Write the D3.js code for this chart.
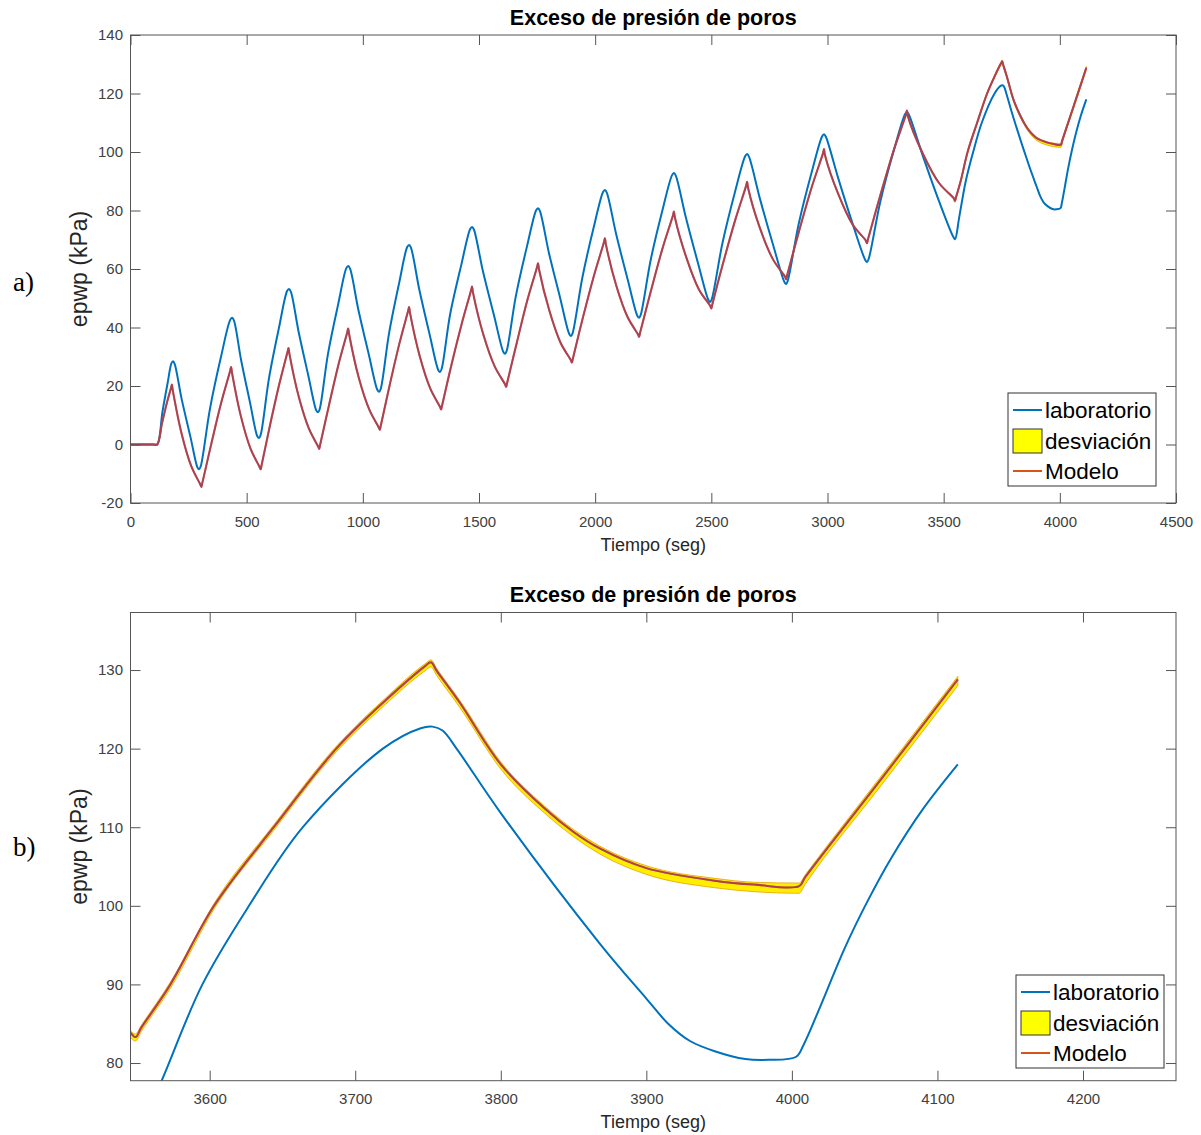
<!DOCTYPE html>
<html><head><meta charset="utf-8">
<script src="https://cdn.jsdelivr.net/npm/d3@7"></script>
<style>body{margin:0;background:#fff} svg{display:block}</style>
</head><body><svg id="c" width="1201" height="1135"></svg>
<script>
// ---- data (tiempo en seg, epwp en kPa) ----
const laboratorio = [
[0,0],[100,0],[115,0],[138,11.4],[160,21.1],[176,27.7],[183,28.5],[190,27.6],[220,15.6],[258,2.6],[288,-7.8],[295,-8.5],[302,-7.5],
[342,12.2],[389,29.8],[429,42.6],[437,43.3],[445,42.4],[476,28.9],[514,14.5],[546,2.8],[553,2.2],[560,3.2],
[596,22.6],[639,39.9],[674,52.5],[682,53.2],[690,52.3],[724,38.4],[765,23.7],[800,11.6],[807,11],[814,12],
[850,31],[894,48],[929,60.3],[937,61],[945,60.1],[981,46],[1025,31],[1063,18.6],[1070,18],[1077,19],
[1113,38.1],[1156,55.1],[1191,67.5],[1199,68.2],[1207,67.3],[1243,53],[1287,37.8],[1325,25.4],[1332,24.8],[1339,25.8],
[1376,44.6],[1424,61.5],[1462,73.7],[1470,74.4],[1478,73.5],[1517,59.2],[1565,44],[1605,31.6],[1612,31],[1619,32],
[1659,50.9],[1707,67.9],[1746,80.1],[1754,80.8],[1762,79.9],[1801,65.5],[1849,50.2],[1889,37.7],[1896,37.1],[1903,38.1],
[1945,57.1],[1993,74],[2034,86.3],[2042,87],[2050,86.1],[2091,71.7],[2140,56.4],[2182,43.9],[2189,43.3],[2196,44.3],
[2239,63.1],[2289,79.9],[2331,92.1],[2339,92.8],[2347,91.9],[2391,77.4],[2443,61.9],[2488,49.3],[2495,48.7],[2502,49.7],
[2548,68.9],[2601,86.1],[2646,98.6],[2654,99.3],[2662,98.4],[2710,83.8],[2766,68.2],[2815,55.5],[2822,54.9],[2829,56],
[2876,75.4],[2931,92.8],[2977,105.4],[2985,106.1],[2993,105.2],[3047,90.8],[3108,75.5],[3163,63],[3170,62.4],[3177,63.4],
[3227,82.9],[3285,100.4],[3334,113],[3342,113.7],[3350,112.8],[3411,98.5],[3480,83.2],[3542,70.9],[3549,70.2],
[3567,77.75],[3595,90],[3627,100],[3664,110],[3719,120],[3745,122.6],[3753,122.8],[3760,122.3],[3770,119.9],[3800,111.8],
[3868,95.2],[3900,88.2],[3915,85.0],[3930,82.8],[3947,81.5],[3968,80.5],[3984,80.4],[4003,80.8],[4008,82.3],[4020,87.4],
[4036,94.5],[4052,100.6],[4068,106],[4090,112.3],[4114,118]
];
const modelo = [
[0,0],[100,0],[115,0],[136,7.4],[157,14.4],[174,19.2],[178,20.5],[182,18.5],[220,3.7],[262,-7.5],[300,-13.6],[305,-14.5],[309,-13.2],
[348,0.3],[390,14.2],[429,25.2],[433,26.5],[437,24.5],[475,9.7],[517,-1.5],[555,-7.6],[560,-8.5],[564,-7.2],
[600,6.4],[640,20.5],[676,31.7],[680,33],[684,31],[724,16.4],[768,5.4],[807,-0.6],[812,-1.5],[816,-0.2],
[854,13.3],[895,27.3],[933,38.4],[937,39.7],[941,37.7],[982,23],[1028,11.9],[1068,5.9],[1073,5],[1077,6.3],
[1115,20.1],[1157,34.4],[1195,45.7],[1199,47],[1203,45],[1245,30.2],[1291,19],[1332,12.9],[1337,12],[1341,13.3],
[1381,27.1],[1426,41.4],[1466,52.7],[1470,54],[1474,52],[1519,37.5],[1568,26.6],[1612,20.6],[1617,19.7],[1621,21],
[1663,34.9],[1708,49.3],[1750,60.7],[1754,62],[1758,60],[1803,45.7],[1851,34.8],[1895,28.9],[1900,28],[1904,29.3],
[1947,43.3],[1995,57.8],[2038,69.2],[2042,70.5],[2046,68.5],[2091,54.3],[2140,43.5],[2184,37.7],[2189,36.8],[2193,38.1],
[2239,52.2],[2289,66.8],[2335,78.4],[2339,79.7],[2343,77.7],[2393,63.8],[2446,53.1],[2495,47.4],[2500,46.5],[2504,47.8],
[2551,62.1],[2603,76.8],[2650,88.5],[2654,89.8],[2658,87.8],[2710,73.8],[2766,63.2],[2817,57.4],[2822,56.5],[2826,57.8],
[2876,72.5],[2931,87.7],[2981,99.7],[2985,101],[2989,99],[3047,85.5],[3108,75.2],[3165,69.7],[3170,68.8],[3174,70.1],
[3227,85.1],[3285,100.6],[3338,112.9],[3342,114.2],[3346,112.2],[3411,99.3],[3480,89.4],[3544,84.1],[3549,83.3],[3553,84.5],
[3573,90],[3603,100],[3644,110],[3687,120],[3720,126],[3748,130.5],[3752,131],[3756,129.9],[3772,125.8],[3800,118],
[3830,112.4],[3850,109.4],[3868,107.3],[3900,104.8],[3947,103.2],[3974,102.7],[4005,102.5],[4009,103.6],[4060,115.8],[4114,128.8]
];
// desviación: [tiempo, límite inferior, límite superior]
const desviacion = [
[3544,83.6,84.5],[3549,82.8,83.7],[3553,84.0,84.8],[3573,89.5,90.3],[3603,99.6,100.3],[3644,109.6,110.3],
[3687,119.6,120.3],[3720,125.5,126.3],[3748,129.9,130.8],[3752,130.4,131.3],[3756,129.3,130.2],[3772,125.2,126.1],
[3800,117.4,118.3],[3830,111.8,112.7],[3850,108.8,109.7],[3868,106.6,107.6],[3900,104.0,105.1],[3947,102.3,103.5],
[3974,101.8,103.0],[4005,101.6,102.9],[4009,102.7,103.9],[4060,115.0,116.2],[4114,128.0,129.2]
];
const ticksXa = [0,500,1000,1500,2000,2500,3000,3500,4000,4500];
const ticksYa = [-20,0,20,40,60,80,100,120,140];
const ticksXb = [3600,3700,3800,3900,4000,4100,4200];
const ticksYb = [80,90,100,110,120,130];
const titulo = "Exceso de presión de poros";
const etiquetaX = "Tiempo (seg)";
const etiquetaY = "epwp (kPa)";
const leyenda = ["laboratorio","desviación","Modelo"];

// ---- layout ----
const panels = [
  {tag:"a)", xDom:[0,4500], yDom:[-20,140], xt:ticksXa, yt:ticksYa,
   l:130.5, r:1176, t:35, b:503, lx:1008, ly:393, titleY:25, xlabY:551, tagY:291},
  {tag:"b)", xDom:[3545.6,4263.9], yDom:[77.75,137.32], xt:ticksXb, yt:ticksYb,
   l:130.5, r:1176, t:612.5, b:1080.7, lx:1016, ly:975, titleY:602, xlabY:1128, tagY:856}
];
const FONT = '"Liberation Sans", Arial, Helvetica, sans-serif';
const svg = d3.select("#c");
const defs = svg.append("defs");

panels.forEach((p,i)=>{
  const x = d3.scaleLinear().domain(p.xDom).range([p.l,p.r]);
  const y = d3.scaleLinear().domain(p.yDom).range([p.b,p.t]);
  const g = svg.append("g");
  defs.append("clipPath").attr("id","clip"+i).append("rect")
    .attr("x",p.l).attr("y",p.t).attr("width",p.r-p.l).attr("height",p.b-p.t);
  const plot = g.append("g").attr("clip-path",`url(#clip${i})`);
  const curve = d3.curveCatmullRom.alpha(0.5);
  const line = d3.line().x(d=>x(d[0])).y(d=>y(d[1])).curve(curve);
  const area = d3.area().x(d=>x(d[0])).y0(d=>y(d[1])).y1(d=>y(d[2])).curve(d3.curveMonotoneX);
  plot.append("path").datum(laboratorio).attr("d",line).attr("fill","none")
    .attr("stroke","#0072BD").attr("stroke-width",2).attr("stroke-linejoin","round");
  plot.append("path").datum(desviacion).attr("d",area).attr("fill","#ffee00")
    .attr("stroke","#eaa000").attr("stroke-width",0.8);
  plot.append("path").datum(modelo).attr("d",line).attr("fill","none")
    .attr("stroke","#D95319").attr("stroke-width",2).attr("stroke-linejoin","round");
  plot.append("path").datum(modelo).attr("d",line).attr("fill","none")
    .attr("stroke","#7E2F8E").attr("stroke-width",2).attr("stroke-opacity",0.5);

  const fmt = d=>String(d);
  const styleAxis = a=>{
    a.select(".domain").remove();
    a.selectAll("line").attr("stroke","#555");
    a.selectAll("text").attr("font-size",15).attr("font-family",FONT).attr("fill","#404040");
  };
  g.append("g").attr("transform",`translate(0,${p.b})`)
    .call(d3.axisBottom(x).tickValues(p.xt).tickSize(-10).tickPadding(13).tickFormat(fmt)).call(styleAxis);
  g.append("g").attr("transform",`translate(0,${p.t})`)
    .call(d3.axisTop(x).tickValues(p.xt).tickSize(-10).tickFormat("")).call(styleAxis);
  g.append("g").attr("transform",`translate(${p.l},0)`)
    .call(d3.axisLeft(y).tickValues(p.yt).tickSize(-10).tickPadding(7.5).tickFormat(fmt)).call(styleAxis);
  g.append("g").attr("transform",`translate(${p.r},0)`)
    .call(d3.axisRight(y).tickValues(p.yt).tickSize(-10).tickFormat("")).call(styleAxis);
  g.append("rect").attr("x",p.l).attr("y",p.t).attr("width",p.r-p.l).attr("height",p.b-p.t)
    .attr("fill","none").attr("stroke","#555").attr("stroke-width",1);

  const cx = (p.l+p.r)/2;
  g.append("text").attr("x",cx).attr("y",p.titleY).attr("text-anchor","middle")
    .attr("font-family",FONT).attr("font-weight","bold").attr("font-size",21.5).attr("fill","#000").text(titulo);
  g.append("text").attr("x",cx).attr("y",p.xlabY).attr("text-anchor","middle")
    .attr("font-family",FONT).attr("font-size",18).attr("fill","#262626").text(etiquetaX);
  const cy = (p.t+p.b)/2;
  g.append("text").attr("transform",`translate(87,${cy}) rotate(-90)`).attr("text-anchor","middle")
    .attr("font-family",FONT).attr("font-size",23).attr("fill","#262626").text(etiquetaY);
  g.append("text").attr("x",13).attr("y",p.tagY)
    .attr("font-family",'"Liberation Serif","Times New Roman",serif').attr("font-size",27).attr("fill","#000").text(p.tag);

  // legend
  const lg = g.append("g").attr("transform",`translate(${p.lx},${p.ly})`);
  lg.append("rect").attr("width",148).attr("height",93).attr("fill","#fff").attr("stroke","#333").attr("stroke-width",1);
  const rows=[17,48,78];
  lg.append("line").attr("x1",5).attr("x2",34).attr("y1",rows[0]).attr("y2",rows[0]).attr("stroke","#0072BD").attr("stroke-width",2);
  lg.append("rect").attr("x",5).attr("y",rows[1]-12).attr("width",29).attr("height",24).attr("fill","#ffff00").attr("stroke","#333").attr("stroke-width",1);
  lg.append("line").attr("x1",5).attr("x2",34).attr("y1",rows[2]).attr("y2",rows[2]).attr("stroke","#D95319").attr("stroke-width",2);
  leyenda.forEach((s,k)=>{
    lg.append("text").attr("x",37).attr("y",rows[k]).attr("dy","0.36em")
      .attr("font-family",FONT).attr("font-size",22.5).attr("fill","#000").text(s);
  });
});
</script>
</body></html>
